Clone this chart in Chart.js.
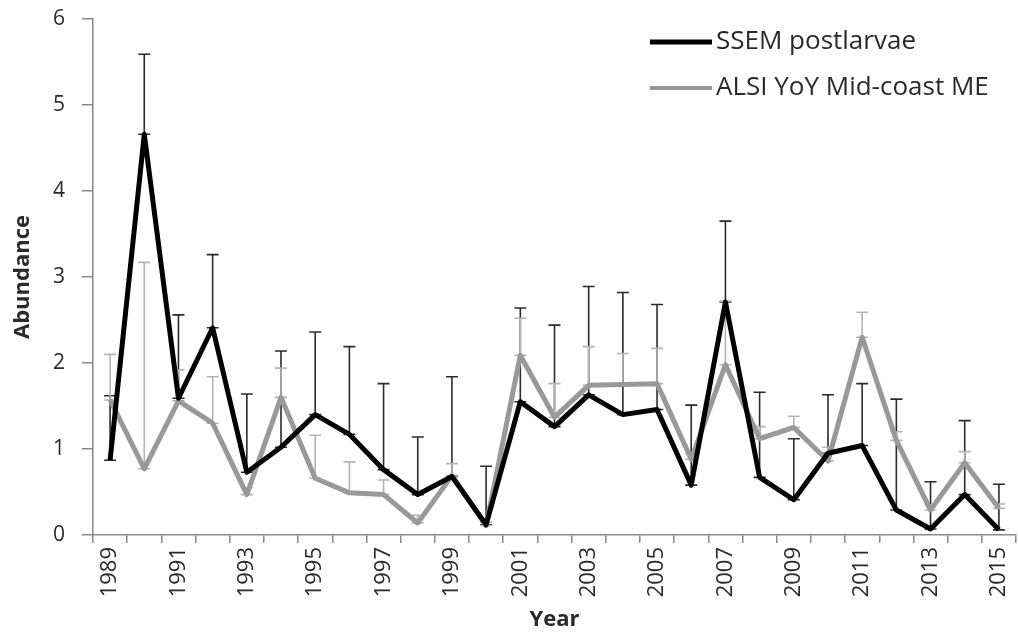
<!DOCTYPE html>
<html><head><meta charset="utf-8">
<script src="https://cdn.jsdelivr.net/npm/chart.js@4/dist/chart.umd.min.js"></script>
<style>html,body{margin:0;padding:0;background:#fff}#wrap{width:1018px;height:635px;position:relative}</style>
</head><body><div id="wrap"><canvas id="c" width="1018" height="635"></canvas></div>
<script>
const years = ['1989','1990','1991','1992','1993','1994','1995','1996','1997','1998','1999','2000','2001','2002','2003','2004','2005','2006','2007','2008','2009','2010','2011','2012','2013','2014','2015'];
const ssem = [0.87, 4.66, 1.59, 2.41, 0.73, 1.02, 1.40, 1.17, 0.76, 0.47, 0.68, 0.12, 1.55, 1.26, 1.63, 1.40, 1.46, 0.58, 2.71, 0.67, 0.41, 0.95, 1.04, 0.29, 0.07, 0.47, 0.06];
const ssemUpper = [1.62, 5.59, 2.56, 3.26, 1.64, 2.14, 2.36, 2.19, 1.76, 1.14, 1.84, 0.80, 2.64, 2.44, 2.89, 2.82, 2.68, 1.51, 3.65, 1.66, 1.12, 1.63, 1.76, 1.58, 0.62, 1.33, 0.59];
const alsi = [1.57, 0.77, 1.56, 1.30, 0.47, 1.60, 0.66, 0.49, 0.47, 0.14, 0.69, 0.11, 2.09, 1.37, 1.74, 1.75, 1.76, 0.88, 1.98, 1.12, 1.25, 0.86, 2.30, 1.10, 0.29, 0.84, 0.31];
const alsiUpper = [2.10, 3.17, 1.92, 1.84, 0.55, 1.94, 1.16, 0.85, 0.64, 0.23, 0.83, 0.15, 2.52, 1.76, 2.19, 2.11, 2.17, 0.95, 2.72, 1.26, 1.38, 1.02, 2.59, 1.20, 0.35, 0.97, 0.36];
const seriesNames = ['SSEM postlarvae', 'ALSI YoY Mid-coast ME'];
const yMin = 0, yMax = 6, yStep = 1;

const FONT = '"Open Sans", Lato, sans-serif';
const AXIS = '#8a8a8a';
const TXT = '#2a2a2a';

const errorBars = {
  id: 'errorBars',
  beforeDatasetsDraw(chart) {
    const ctx = chart.ctx, xs = chart.scales.x, ys = chart.scales.y;
    chart.data.datasets.forEach(ds => {
      ctx.save();
      ctx.strokeStyle = ds.errColor;
      ctx.lineWidth = 1.6;
      ds.data.forEach((v, i) => {
        const px = xs.getPixelForValue(i);
        const y0 = ys.getPixelForValue(v), y1 = ys.getPixelForValue(ds.errUpper[i]);
        ctx.beginPath();
        ctx.moveTo(px, y0); ctx.lineTo(px, y1);
        ctx.moveTo(px - 6, y1); ctx.lineTo(px + 6, y1);
        ctx.moveTo(px - 6, y0); ctx.lineTo(px + 6, y0);
        ctx.stroke();
      });
      ctx.restore();
    });
  }
};

const legendDraw = {
  id: 'legendDraw',
  afterDraw(chart) {
    const ctx = chart.ctx;
    ctx.save();
    chart.data.datasets.forEach((ds, i) => {
      const y = 42 + i * 46;
      ctx.strokeStyle = ds.borderColor;
      ctx.lineWidth = i === 0 ? 5 : 4;
      ctx.beginPath(); ctx.moveTo(650, y); ctx.lineTo(712, y); ctx.stroke();
      ctx.fillStyle = TXT;
      ctx.font = '26px ' + FONT;
      ctx.textBaseline = 'middle';
      ctx.textAlign = 'left';
      ctx.fillText(ds.label, 716, y);
    });
    ctx.restore();
  }
};

new Chart(document.getElementById('c'), {
  type: 'line',
  data: {
    labels: years,
    datasets: [
      { label: seriesNames[0], data: ssem, errUpper: ssemUpper, errColor: '#2b2b2b',
        borderColor: '#000000', borderWidth: 5, pointRadius: 0, tension: 0, borderJoinStyle: 'round', order: 0 },
      { label: seriesNames[1], data: alsi, errUpper: alsiUpper, errColor: '#b4b4b4',
        borderColor: '#999999', borderWidth: 5, pointRadius: 0, tension: 0, borderJoinStyle: 'round', order: 1 }
    ]
  },
  options: {
    responsive: false, animation: false, devicePixelRatio: 1,
    layout: { padding: { top: 19, right: 2, left: 0, bottom: 0 } },
    plugins: { legend: { display: false }, tooltip: { enabled: false } },
    scales: {
      x: {
        type: 'category', offset: true,
        grid: { offset: true, drawOnChartArea: false, tickLength: 8, color: AXIS, lineWidth: 1.5 },
        border: { color: AXIS, width: 1.5 },
        ticks: { autoSkip: false, maxRotation: 90, minRotation: 90, padding: 4, color: TXT,
          font: { family: FONT, size: 22 },
          callback: (v, i) => (i % 2 === 0 ? years[i] : '') },
        title: { display: true, text: 'Year', color: TXT, font: { family: FONT, size: 22, weight: 'bold' }, padding: { top: 0, bottom: 2 } },
        afterFit: s => { s.height = 100; s.paddingLeft = 0; s.paddingRight = 0; s.paddingTop = 0; s.paddingBottom = 0; }
      },
      y: {
        min: yMin, max: yMax,
        grid: { drawOnChartArea: false, tickLength: 11, color: AXIS, lineWidth: 1.5 },
        border: { color: AXIS, width: 1.5 },
        ticks: { stepSize: yStep, padding: 17, color: TXT, font: { family: FONT, size: 21 } },
        title: { display: true, text: 'Abundance', color: TXT, font: { family: FONT, size: 22, weight: 'bold' }, padding: { top: 10, bottom: 0 } },
        afterFit: s => { s.width = 93; s.paddingTop = 0; s.paddingBottom = 0; s.paddingLeft = 0; s.paddingRight = 0; }
      }
    }
  },
  plugins: [errorBars, legendDraw]
});
</script></body></html>
